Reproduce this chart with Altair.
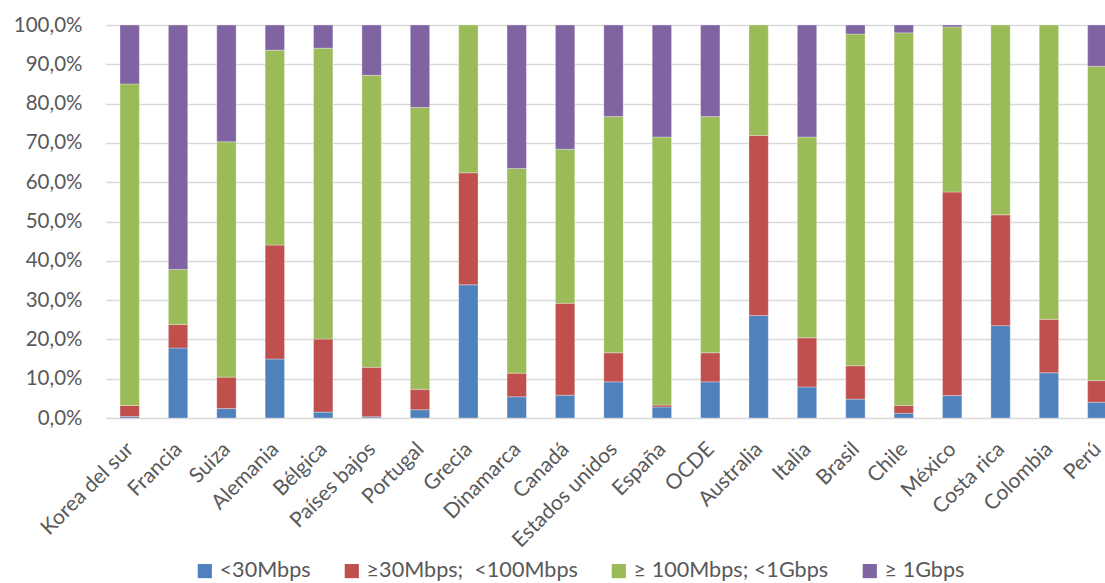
import altair as alt
import pandas as pd

# Share of fixed broadband subscriptions by advertised speed tier (%)
countries = ["Korea del sur", "Francia", "Suiza", "Alemania", "Bélgica", "Países bajos",
             "Portugal", "Grecia", "Dinamarca", "Canadá", "Estados unidos", "España",
             "OCDE", "Australia", "Italia", "Brasil", "Chile", "México", "Costa rica",
             "Colombia", "Perú"]

series = ["<30Mbps", "≥30Mbps;\u00a0 <100Mbps", "≥ 100Mbps; <1Gbps", "≥ 1Gbps"]
colors = ["#4F81BD", "#C0504D", "#9BBB59", "#8064A2"]

below_30 = [0.4, 17.8, 2.4, 15.0, 1.5, 0.3, 2.1, 33.9, 5.4, 5.8, 9.2, 2.8, 9.2, 26.1,
            7.9, 4.8, 1.2, 5.7, 23.5, 11.5, 4.0]
from_30_to_100 = [2.8, 6.0, 8.0, 29.0, 18.6, 12.6, 5.2, 28.5, 6.0, 23.4, 7.4, 0.5, 7.4,
                  45.8, 12.5, 8.5, 2.0, 51.8, 28.2, 13.6, 5.5]
from_100_to_1g = [81.8, 14.0, 59.9, 49.6, 74.0, 74.3, 71.7, 37.6, 52.1, 39.2, 60.1, 68.2,
                  60.1, 28.1, 51.1, 84.4, 94.8, 42.0, 48.3, 74.9, 80.0]
above_1g = [15.0, 62.2, 29.7, 6.4, 5.9, 12.8, 21.0, 0.0, 36.5, 31.6, 23.3, 28.5, 23.3,
            0.0, 28.5, 2.3, 2.0, 0.5, 0.0, 0.0, 10.5]

rows = []
for k, vals in enumerate([below_30, from_30_to_100, from_100_to_1g, above_1g]):
    for c, v in zip(countries, vals):
        if v > 0:
            rows.append({"pais": c, "tramo": series[k], "orden": k, "valor": v})
df = pd.DataFrame(rows)

FONT = "Lato"
GREY = "#595959"

bars = alt.Chart(df).mark_bar(
    clip=True, stroke="white", strokeWidth=0.6, strokeOpacity=0.5
).encode(
    x=alt.X("pais:N", sort=countries, title=None,
            scale=alt.Scale(range=[0.5, 1016.5], paddingInner=0.6, paddingOuter=0.3),
            axis=alt.Axis(labelAngle=-45, labelFontSize=21, labelColor=GREY,
                          labelFont=FONT, domain=False, ticks=False, tickSize=0,
                          labelPadding=20, labelOffset=-7, labelOverlap=False,
                          labelLimit=300)),
    y=alt.Y("valor:Q", stack="zero", title=None,
            scale=alt.Scale(domain=[0, 100], nice=False),
            axis=alt.Axis(values=[0, 10, 20, 30, 40, 50, 60, 70, 80, 90, 100],
                          labelExpr="replace(format(datum.value, '.1f'), '.', ',') + '%'",
                          labelFontSize=20.5, labelColor=GREY, labelFont=FONT,
                          domain=False, ticks=False, tickSize=0, labelPadding=23,
                          grid=True, gridColor="#D9D9D9", gridWidth=1.3)),
    color=alt.Color("tramo:N", title=None,
                    scale=alt.Scale(domain=series, range=colors),
                    legend=alt.Legend(orient="none", legendX=89, legendY=535,
                                      direction="horizontal", symbolType="square",
                                      symbolSize=200, symbolStrokeWidth=0,
                                      labelFontSize=21.6, labelColor=GREY, labelFont=FONT,
                                      labelLimit=400, columnPadding=30, labelOffset=4)),
    order=alt.Order("orden:Q", sort="ascending"),
)

chart = bars.properties(
    width=1000, height=393,
    autosize=alt.AutoSizeParams(type="none"),
    padding={"left": 105, "top": 25, "right": 0, "bottom": 165},
    background="white",
).configure_view(stroke=None)

chart.save("out.html", embed_options={"renderer": "svg", "actions": False})
